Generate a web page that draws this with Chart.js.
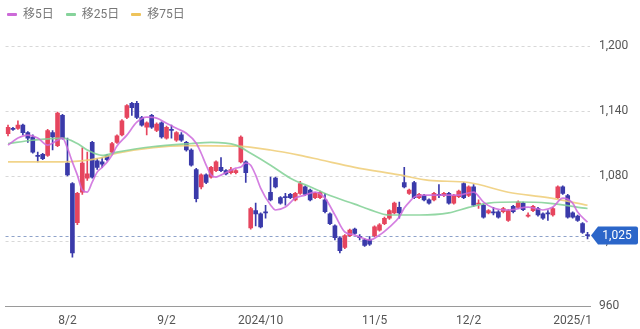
<!DOCTYPE html>
<html>
<head>
<meta charset="utf-8">
<script src="https://cdn.jsdelivr.net/npm/chart.js@4.4.1/dist/chart.umd.min.js"></script>
<style>
  html, body { margin: 0; padding: 0; background: #fff; }
  #wrap { position: relative; width: 640px; height: 329px; }
  #legend { position: absolute; left: 7px; top: 6px; display: flex; font: 12px Roboto, "Noto Sans CJK JP", sans-serif; line-height: 17px; color: #777; }
  #legend .item { display: flex; align-items: center; margin-right: 12px; }
  #legend .item i { display: inline-block; width: 10px; height: 3px; margin-right: 6px; border-radius: 1px; }
</style>
</head>
<body>
<div id="wrap">
  <canvas id="chart" width="640" height="329"></canvas>
  <div id="legend"></div>
</div>
<script>
// trading days 2024/7/17 .. 2025/1/9
const dates = [
  '7/17','7/18','7/19','7/22','7/23','7/24','7/25','7/26','7/29','7/30','7/31',
  '8/1','8/2','8/5','8/6','8/7','8/8','8/9','8/13','8/14','8/15','8/16','8/19','8/20','8/21','8/22','8/23','8/26','8/27','8/28','8/29','8/30',
  '9/2','9/3','9/4','9/5','9/6','9/9','9/10','9/11','9/12','9/13','9/17','9/18','9/19','9/20','9/24','9/25','9/26','9/27','9/30',
  '10/1','10/2','10/3','10/4','10/7','10/8','10/9','10/10','10/11','10/15','10/16','10/17','10/18','10/21','10/22','10/23','10/24','10/25','10/28','10/29','10/30','10/31',
  '11/1','11/5','11/6','11/7','11/8','11/11','11/12','11/13','11/14','11/15','11/18','11/19','11/20','11/21','11/22','11/25','11/26','11/27','11/28','11/29',
  '12/2','12/3','12/4','12/5','12/6','12/9','12/10','12/11','12/12','12/13','12/16','12/17','12/18','12/19','12/20','12/23','12/24','12/25','12/26','12/27','12/30',
  '1/6','1/7','1/8','1/9'
];

const open = [
  1119,1124,1124,1127,1120,1116,1099,1100,1099,1120,1108,1136,1092,1073,1037,1065,1078,1111,1094,1093,
  1099,1102,1111,1118,1134,1147,1147,1134,1125,1136,1122,1129,1115,1123,1113,1118,1111,1104,1086,1070,
  1081,1079,1085,1088,1085,1083,1083,1093,1093,1032,1048,1045,1047,1065,1078,1060,1061,1063,1058,1064,
  1070,1067,1060,1060,1058,1045,1034,1023,1014,1025,1031,1024,1021,1021,1025,1030,1036,1041,1046,1051,
  1074,1064,1074,1060,1062,1058,1058,1063,1062,1064,1055,1061,1073,1062,1070,1054,1053,1046,1047,1047,
  1047,1039,1052,1051,1055,1043,1048,1050,1045,1046,1044,1060,1070,1062,1046,1043,1036,1026
];
const high = [
  1127,1125,1131,1128,1121,1118,1102,1101,1123,1122,1139,1137,1115,1074,1065,1106,1102,1112,1096,1097,
  1100,1111,1118,1132,1146,1148,1149,1135,1130,1137,1129,1130,1126,1127,1121,1120,1112,1105,1087,1082,
  1082,1089,1094,1097,1086,1088,1086,1117,1094,1051,1055,1046,1053,1079,1079,1061,1064,1064,1065,1075,
  1071,1068,1065,1066,1064,1046,1035,1024,1026,1031,1032,1026,1022,1024,1034,1036,1042,1049,1056,1056,
  1088,1068,1075,1064,1063,1059,1065,1072,1065,1065,1063,1067,1074,1071,1072,1058,1054,1049,1051,1048,
  1051,1049,1053,1057,1056,1046,1053,1051,1046,1048,1051,1071,1071,1063,1047,1044,1037,1028
];
const low = [
  1117,1122,1123,1118,1111,1101,1093,1095,1098,1104,1107,1114,1080,1005,1035,1063,1076,1078,1086,1088,
  1094,1101,1110,1117,1133,1136,1133,1126,1118,1124,1121,1115,1114,1115,1112,1112,1103,1089,1056,1068,
  1073,1078,1084,1084,1081,1082,1082,1092,1074,1031,1034,1032,1041,1057,1069,1054,1053,1059,1057,1063,
  1062,1057,1059,1059,1046,1035,1021,1009,1013,1024,1026,1021,1015,1016,1024,1029,1035,1040,1045,1041,
  1069,1063,1059,1059,1057,1054,1057,1060,1061,1054,1054,1060,1059,1061,1052,1050,1041,1045,1044,1041,
  1046,1038,1046,1050,1048,1042,1047,1043,1040,1039,1043,1059,1063,1041,1041,1038,1027,1022
];
const close = [
  1125,1123,1127,1120,1115,1102,1098,1096,1122,1116,1138,1115,1081,1009,1064,1092,1082,1079,1088,1091,
  1095,1110,1117,1131,1145,1143,1134,1127,1129,1125,1128,1116,1125,1122,1120,1113,1104,1090,1059,1081,
  1074,1088,1093,1085,1082,1086,1085,1116,1083,1050,1045,1033,1046,1058,1070,1055,1060,1060,1064,1073,
  1063,1058,1064,1065,1047,1036,1023,1011,1025,1030,1027,1023,1016,1017,1033,1035,1041,1048,1055,1046,
  1070,1067,1060,1063,1058,1055,1064,1062,1064,1055,1062,1066,1060,1070,1053,1055,1042,1048,1046,1042,
  1050,1048,1047,1056,1049,1044,1052,1044,1041,1045,1050,1070,1064,1042,1042,1039,1028,1025
];

// moving averages: [day index, value]
const ma5 = [
  [0,1108.5],[2,1115],[4,1117.7],[6,1115],[8,1108.5],[10,1113],[11,1115],[12,1105.7],[13,1092.8],[14,1080.8],
  [15,1067],[16,1065.2],[17,1074.4],[18,1083.6],[19,1088],[20,1092.8],[21,1099.3],[22,1107.6],[24,1117.7],[26,1129.7],
  [28,1134.3],[30,1133.4],[32,1128.8],[34,1124],[36,1119.5],[38,1110.3],[39,1101],[40,1090],[41,1080.8],[42,1079],
  [43,1080.8],[45,1085.4],[46,1087.3],[47,1088.2],[48,1092],[49,1090],[50,1080.8],[51,1068.8],[53,1053.2],[54,1048.6],
  [56,1051.3],[58,1059.6],[60,1062.4],[62,1065.2],[64,1059.6],[66,1044],[68,1028.3],[70,1025.5],[71,1023.7],[73,1020.9],
  [75,1025.5],[77,1032.9],[79,1042.1],[80,1050.4],[81,1055.9],[82,1060.5],[84,1062.4],[87,1062.4],[91,1062.4],[94,1065.2],
  [96,1055.9],[98,1050.4],[101,1048.6],[105,1051.3],[108,1048.6],[110,1051.3],[112,1059.6],[114,1055],[115,1046.7],[117,1037.5]
];
const ma25 = [
  [0,1110],[5,1113],[11,1115],[14,1110],[16,1104],[19,1099],[22,1102],[29,1107],[37,1110],[41,1111],
  [46,1108.5],[49,1101],[53,1090],[57,1078],[61,1070],[65,1062],[70,1054],[73,1049],[77,1044],[83,1044],
  [89,1046],[93,1051],[97,1055],[103,1056],[109,1055],[117,1050]
];
const ma75 = [
  [0,1093],[11,1093],[19,1097],[22,1101],[36,1108],[46,1107.5],[53,1104],[59,1099],[63,1095],[70,1088],
  [79,1081],[85,1076],[93,1074],[101,1065],[109,1060],[117,1053]
];

const yTicks = [960, 1020, 1080, 1140, 1200];
const xTickDates = ['8/2', '9/2', '10/1', '11/5', '12/2', '1/6'];
const xTickTexts = ['8/2', '9/2', '2024/10', '11/5', '12/2', '2025/1'];

const UP = '#e6455e', DOWN = '#3a3aaa';
const FONT = 'Roboto, "Noto Sans CJK JP", sans-serif';
const candleColor = close.map((c, i) => c >= open[i] ? UP : DOWN);
const toPts = (arr) => arr.map(([i, v]) => ({ x: dates[i], y: v }));

const maSets = [
  { label: '移5日', pts: ma5, color: 'rgba(204,104,220,0.85)', key: '#cc6ad8' },
  { label: '移25日', pts: ma25, color: 'rgba(128,208,148,0.85)', key: '#86d39b' },
  { label: '移75日', pts: ma75, color: 'rgba(238,204,118,0.85)', key: '#eec35a' },
];

// legend (html)
document.getElementById('legend').innerHTML = maSets
  .map(m => `<span class="item"><i style="background:${m.key}"></i>${m.label}</span>`).join('');

const lastPrice = {
  id: 'lastPrice',
  beforeDatasetsDraw(chart) {
    const { ctx, chartArea: a, scales: { y } } = chart;
    const py = Math.round(y.getPixelForValue(close[close.length - 1])) + 0.5;
    ctx.save();
    ctx.strokeStyle = '#8ea2c9';
    ctx.lineWidth = 1;
    ctx.setLineDash([3, 3]);
    ctx.beginPath(); ctx.moveTo(a.left, py); ctx.lineTo(a.right, py); ctx.stroke();
    ctx.restore();
  },
  afterDraw(chart) {
    const { ctx, chartArea: a, scales: { y } } = chart;
    const last = close[close.length - 1];
    const py = y.getPixelForValue(last);
    const x0 = a.right + 1, x1 = a.right + 8, x2 = a.right + 48, h = 9;
    ctx.save();
    ctx.fillStyle = '#2b66c9';
    ctx.beginPath();
    ctx.moveTo(x0, py);
    ctx.lineTo(x1, py - h);
    ctx.lineTo(x2 - 2, py - h);
    ctx.quadraticCurveTo(x2, py - h, x2, py - h + 2);
    ctx.lineTo(x2, py + h - 2);
    ctx.quadraticCurveTo(x2, py + h, x2 - 2, py + h);
    ctx.lineTo(x1, py + h);
    ctx.closePath();
    ctx.fill();
    ctx.fillStyle = '#fff';
    ctx.font = '12px ' + FONT;
    ctx.textAlign = 'center';
    ctx.textBaseline = 'middle';
    ctx.fillText(last.toLocaleString('en-US'), (x1 + x2) / 2 - 1, py + 0.5);
    ctx.restore();
  }
};

new Chart(document.getElementById('chart'), {
  type: 'bar',
  data: {
    labels: dates,
    datasets: [
      ...maSets.map(m => ({
        type: 'line', label: m.label, data: toPts(m.pts),
        borderColor: m.color, borderWidth: 1.7, pointRadius: 0,
        spanGaps: true, cubicInterpolationMode: 'monotone', order: 0
      })),
      {
        label: 'body', data: open.map((o, i) => [o, close[i]]),
        backgroundColor: candleColor, barThickness: 4, minBarLength: 1,
        grouped: false, order: 1
      },
      {
        label: 'wick', data: low.map((l, i) => [l, high[i]]),
        backgroundColor: candleColor, barThickness: 1,
        grouped: false, order: 2
      }
    ]
  },
  options: {
    responsive: false,
    animation: false,
    layout: { padding: { top: 46, left: 4, right: 0, bottom: 0 } },
    plugins: { legend: { display: false }, tooltip: { enabled: false } },
    scales: {
      x: {
        offset: true,
        afterFit: (s) => { s.height = 23; },
        grid: { display: false, drawTicks: false },
        border: { display: true, color: '#9a9a9a', width: 1 },
        ticks: {
          autoSkip: false, maxRotation: 0, minRotation: 0, padding: 8,
          color: '#555', font: { size: 12, family: FONT },
          callback: (v, i) => {
            const k = xTickDates.indexOf(dates[i]);
            return k >= 0 ? xTickTexts[k] : '';
          }
        }
      },
      y: {
        position: 'right',
        min: yTicks[0], max: yTicks[yTicks.length - 1],
        afterBuildTicks: (s) => { s.ticks = yTicks.map(v => ({ value: v })); },
        afterFit: (s) => { s.width = 50; },
        grid: { color: '#d8d8d8', drawTicks: false },
        border: { display: false, dash: [3, 3] },
        ticks: {
          padding: 9, color: '#555', font: { size: 12, family: FONT },
          callback: (v) => v.toLocaleString('en-US')
        }
      }
    }
  },
  plugins: [lastPrice]
});
</script>
</body>
</html>
